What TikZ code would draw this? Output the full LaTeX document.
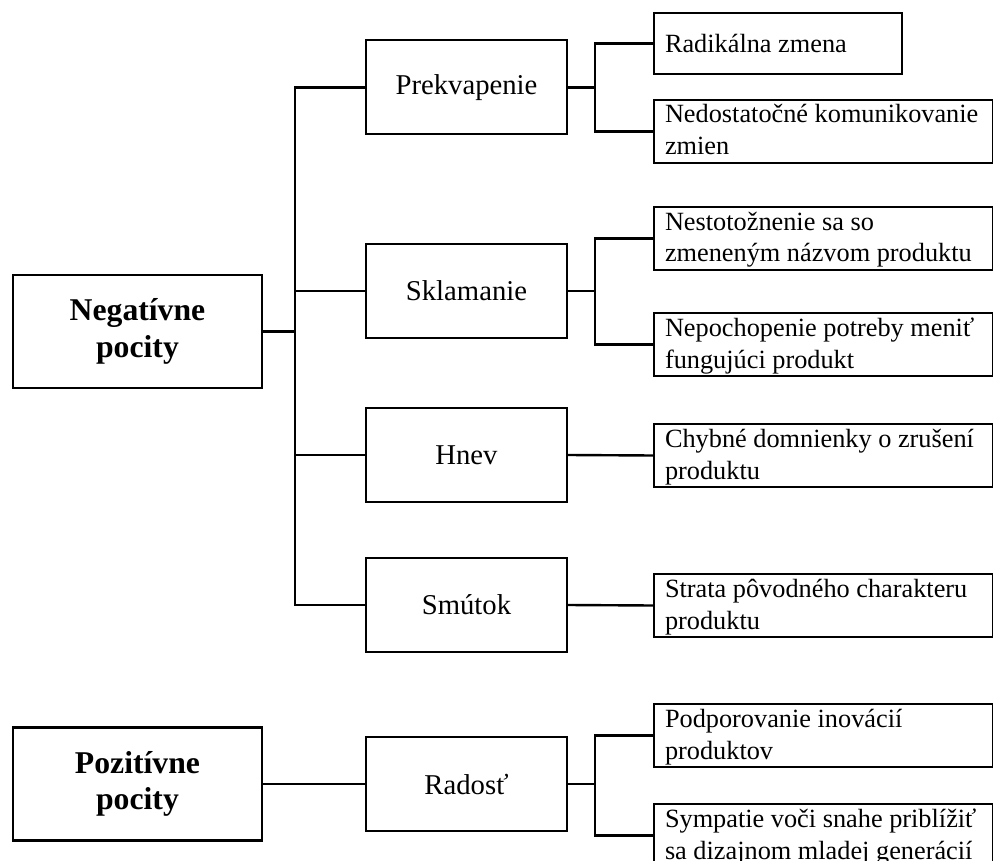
\documentclass[tikz,border=0pt]{standalone}
\usepackage{fontspec}
\setmainfont{Liberation Serif}
\newcommand{\leaftxt}[2]{\rule{0pt}{23pt}\mbox{#1}\\\mbox{#2}\rule[-8pt]{0pt}{8pt}}
\begin{document}
\begin{tikzpicture}[x = 1pt, y = -1pt,
		root/.style = {draw, line width = 2.6pt, minimum width = 249pt, minimum height = 113pt, align = center, font = \fontsize{31.7}{36.7}\selectfont\bfseries},
		emo/.style = {draw, line width = 2pt, minimum width = 201pt, minimum height = 94pt, font = \fontsize{28.7}{34}\selectfont},
		leaf/.style = {draw, line width = 2pt, anchor = north west, inner xsep = 11pt, inner ysep = 0pt, text width = 317pt, align = flush left, font = \fontsize{26.3}{32}\selectfont},
		conn/.style = {line width = 2.4pt}]
		\useasboundingbox (0,0) rectangle (993,861);
		\node [root] (neg) at (137.5,331.5) {Negatívne\\pocity};
		\node [root] (poz) at (137.5,784) {Pozitívne\\pocity};
		\node [emo] (prek) at (466.5,87.5) {Prekvapenie};
		\node [emo] (skl) at (466.5,291) {Sklamanie};
		\node [emo] (hnev) at (466.5,455) {Hnev};
		\node [emo] (smut) at (466.5,605) {Smútok};
		\node [emo] (rad) at (466.5,784) {Radosť};
		\node [leaf, text width = 226pt, minimum height = 61pt] (zmena) at (653,12) {\mbox{Radikálna zmena}};
		\node [leaf] (komun) at (653,99) {\leaftxt{Nedostatočné komunikovanie}{zmien}};
		\node [leaf] (nazov) at (653,206) {\leaftxt{Nestotožnenie sa so}{zmeneným názvom produktu}};
		\node [leaf] (potreba) at (653,312) {\leaftxt{Nepochopenie potreby meniť}{fungujúci produkt}};
		\node [leaf] (domnienky) at (653,423) {\leaftxt{Chybné domnienky o zrušení}{produktu}};
		\node [leaf] (charakter) at (653,573) {\leaftxt{Strata pôvodného charakteru}{produktu}};
		\node [leaf] (inovacie) at (653,703) {\leaftxt{Podporovanie inovácií}{produktov}};
		\node [leaf] (sympatie) at (653,803) {\leaftxt{Sympatie voči snahe priblížiť}{sa dizajnom mladej generácií}};
		\coordinate (bus1) at (295,0);
		\coordinate (bus2) at (595,0);
		\draw [conn, line width = 3.2pt] (neg.east) -- (neg.east -| bus1);
		\draw [conn] (prek.west) -- (prek.west -| bus1) -- (smut.west -| bus1) -- (smut.west);
		\foreach \m in {skl, hnev}
			\draw [conn] (\m.west -| bus1) -- (\m.west);
		\draw [conn] (prek.east) -- (prek.east -| bus2);
		\draw [conn] (zmena.west) -- (zmena.west -| bus2) -- (komun.west -| bus2) -- (komun.west);
		\draw [conn] (skl.east) -- (skl.east -| bus2);
		\draw [conn] (nazov.west) -- (nazov.west -| bus2) -- (potreba.west -| bus2) -- (potreba.west);
		\draw [conn] (hnev.east) -- (domnienky.west);
		\draw [conn] (smut.east) -- (charakter.west);
		\draw [conn] (poz.east) -- (rad.west);
		\draw [conn] (rad.east) -- (rad.east -| bus2);
		\draw [conn] (inovacie.west) -- (inovacie.west -| bus2) -- (sympatie.west -| bus2) -- (sympatie.west);
	\end{tikzpicture}
\end{document}
